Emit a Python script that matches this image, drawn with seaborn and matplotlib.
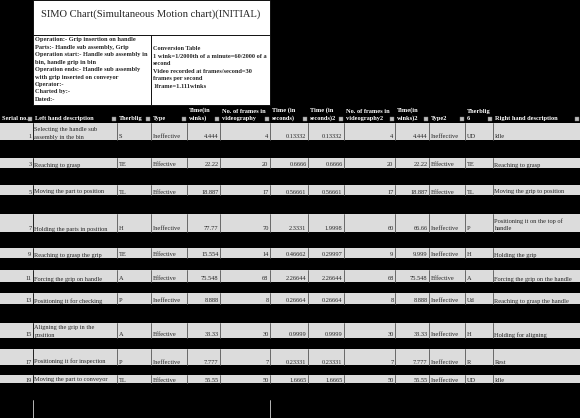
import matplotlib
matplotlib.use("Agg")
import matplotlib.pyplot as plt
import matplotlib.patches as mpatches
import seaborn as sns

sns.set_style("white")
plt.rcParams['font.family'] = ['Liberation Serif', 'DejaVu Serif']

# ---- data ----
serial = [1, 3, 5, 7, 9, 11, 13, 15, 17, 19]
left_desc = ["Selecting the handle sub\nassembly in the bin", "Reaching to grasp",
             "Moving the part to position", "Holding the parts in position",
             "Reaching to grasp the grip", "Forcing the grip on handle",
             "Positioning it for checking", "Aligning the grip in the\nposition",
             "Positioning it for inspection", "Moving the part to conveyor"]
therblig = ["S", "TE", "TL", "H", "TE", "A", "P", "A", "P", "TL"]
type1 = ["Ineffective", "Effective", "Effective", "Ineffective", "Effective",
         "Effective", "Ineffective", "Effective", "Ineffective", "Effective"]
winks = ["4.444", "22.22", "18.887", "77.77", "15.554", "75.548", "8.888", "33.33", "7.777", "55.55"]
frames = [4, 20, 17, 70, 14, 68, 8, 30, 7, 50]
secs = ["0.13332", "0.6666", "0.56661", "2.3331", "0.46662", "2.26644", "0.26664", "0.9999", "0.23331", "1.6665"]
secs2 = ["0.13332", "0.6666", "0.56661", "1.9998", "0.29997", "2.26644", "0.26664", "0.9999", "0.23331", "1.6665"]
frames2 = [4, 20, 17, 60, 9, 68, 8, 30, 7, 50]
winks2 = ["4.444", "22.22", "18.887", "66.66", "9.999", "75.548", "8.888", "33.33", "7.777", "55.55"]
type2 = ["Ineffective", "Effective", "Effective", "Ineffective", "Ineffective",
         "Effective", "Ineffective", "Ineffective", "Ineffective", "Ineffective"]
therblig6 = ["UD", "TE", "TL", "P", "H", "A", "Ud", "H", "R", "UD"]
right_desc = ["Idle", "Reaching to grasp", "Moving the grip to position",
              "Positioning it on the top of\nhandle", "Holding the grip",
              "Forcing the grip on the handle", "Reaching to grasp the handle",
              "Holding for aligning", "Rest", "Idle"]
headers = ["Serial no.", "Left hand description", "Therblig", "Type", "Time(in\nwinks)",
           "No. of frames in\nvideography", "Time (in\nseconds)", "Time (in\nseconds)2",
           "No. of frames in\nvideography2", "Time(in\nwinks)2", "Type2", "Therblig\n6",
           "Right hand description"]

# ---- layout (pixels) ----
col_x = [0, 33, 117, 151, 187, 220, 270, 308, 344, 395, 429, 465, 493, 580]
right_aligned = [True, False, False, False, True, True, True, True, True, True, False, False, False]
row_y = [(123, 140), (158, 168), (185, 195), (214, 232), (248, 258),
         (270, 282), (293, 304), (323, 338), (349, 365), (375, 383)]

fig = plt.figure(figsize=(5.8, 4.18), dpi=100, facecolor='black')
ax = fig.add_axes([0, 0, 1, 1])
ax.set_facecolor('black')
ax.set_xlim(0, 580)
ax.set_ylim(418, 0)
ax.axis('off')

# title + info boxes
ax.add_patch(mpatches.Rectangle((33, 0), 237, 35, fc='white', ec='black', lw=0.6))
ax.add_patch(mpatches.Rectangle((33, 35), 118, 70, fc='white', ec='black', lw=0.6))
ax.add_patch(mpatches.Rectangle((151, 35), 119, 70, fc='white', ec='black', lw=0.6))
ax.text(151, 14, "SIMO Chart(Simultaneous Motion chart)(INITIAL)", ha='center', va='center', fontsize=7.6)
info_l = ("Operation:- Grip insertion on handle\nParts:- Handle sub assembly, Grip\n"
          "Operation start:- Handle sub assembly in\nbin, handle grip in bin\n"
          "Operation ends:- Handle sub assembly\nwith grip inserted on conveyor\n"
          "Operator:-\nCharted by:-\nDated:-")
info_r = ("Conversion Table\n1 wink=1/2000th of a minute=60/2000 of a\nsecond\n"
          "Video recorded at frames/second=30\nframes per second\n1frame=1.111winks")
ax.text(35, 37.5, info_l, ha='left', va='top', fontsize=4.6, fontweight='bold', linespacing=1.6)
ax.text(153, 46.5, info_r, ha='left', va='top', fontsize=4.6, fontweight='bold', linespacing=1.6)

# header
for i, h in enumerate(headers):
    x0, x1 = col_x[i], col_x[i + 1]
    ax.text(x0 + 2, 121, h, ha='left', va='bottom', color='white', fontsize=4.6,
            fontweight='bold', linespacing=1.4)
    ax.add_patch(mpatches.Rectangle((x1 - 5, 116.5), 4, 4, fc='#bbbbbb', ec='#777777', lw=0.3))

# data rows
columns = [serial, left_desc, therblig, type1, winks, frames, secs, secs2,
           frames2, winks2, type2, therblig6, right_desc]
for r, (y0, y1) in enumerate(row_y):
    ax.add_patch(mpatches.Rectangle((0, y0), 580, y1 - y0, fc='#dcdcdc', ec='none'))
    for i in range(13):
        x0, x1 = col_x[i], col_x[i + 1]
        if i > 0:
            ax.plot([x0, x0], [y0, y1], color='#555555' if i != 1 else 'black', lw=0.6)
        val = str(columns[i][r])
        if right_aligned[i]:
            ax.text(x1 - 1.5, y1 - 0.5, val, ha='right', va='bottom', fontsize=4.6, linespacing=1.5)
        else:
            ax.text(x0 + 1.5, y1 - 0.5, val, ha='left', va='bottom', fontsize=4.6, linespacing=1.5)

# faint column lines at bottom
for x in [33, 270]:
    ax.plot([x, x], [400, 418], color='white', lw=0.5)

fig.savefig("out.png", dpi=100, facecolor='black')
